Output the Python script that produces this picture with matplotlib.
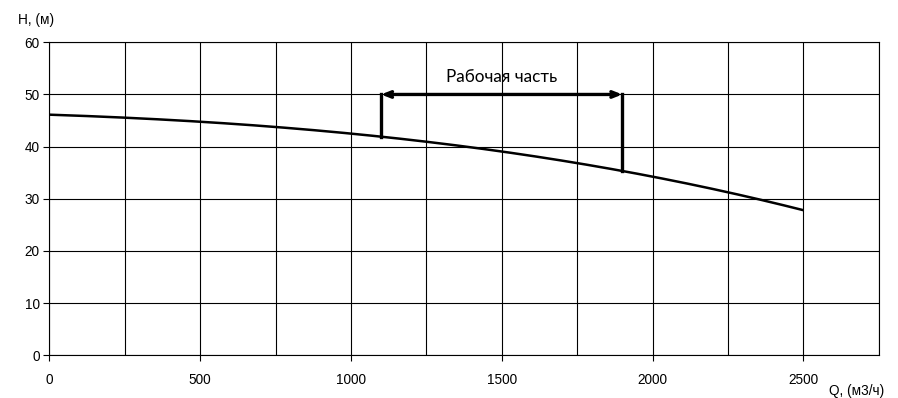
import matplotlib
matplotlib.use("Agg")
import matplotlib.pyplot as plt
import numpy as np
from matplotlib.ticker import MultipleLocator, FixedLocator

# Data
Q = [0, 250, 500, 750, 1000, 1250, 1500, 1750, 2000, 2250, 2500]
H = [46.1, 45.6, 44.8, 43.7, 42.5, 41.0, 39.0, 36.9, 34.2, 31.3, 27.8]
work_start, work_end = 1100, 1900
work_level = 50
work_label = "Рабочая часть"
x_ticks = [0, 500, 1000, 1500, 2000, 2500]
y_ticks = [0, 10, 20, 30, 40, 50, 60]

plt.rcParams['font.family'] = ['Liberation Sans', 'DejaVu Sans']

W, Hpx = 898, 398
fig = plt.figure(figsize=(W / 100, Hpx / 100), dpi=100)
left, right, top, bottom = 49.3, 878.7, 42.3, 355.3
ax = fig.add_axes([left / W, 1 - bottom / Hpx, (right - left) / W, (bottom - top) / Hpx])

ax.set_xlim(0, 2750)
ax.set_ylim(0, 60)
ax.xaxis.set_major_locator(FixedLocator(x_ticks))
ax.xaxis.set_minor_locator(MultipleLocator(250))
ax.yaxis.set_major_locator(FixedLocator(y_ticks))
ax.grid(True, which='both', axis='x', color='black', linewidth=0.8)
ax.grid(True, which='major', axis='y', color='black', linewidth=0.8)
ax.set_axisbelow(True)
ax.tick_params(axis='both', which='major', direction='out', length=4, width=0.8,
               labelsize=9.8, colors='black', pad=8)
ax.tick_params(axis='y', which='major', pad=3)
ax.tick_params(axis='x', which='major', pad=9)
ax.tick_params(axis='x', which='minor', length=0)
for s in ax.spines.values():
    s.set_color('black')
    s.set_linewidth(0.8)

# curve
Qs = np.array(Q, dtype=float)
Hs = np.array(H, dtype=float)
qq = np.linspace(0, 2500, 300)
coef = np.polyfit(Qs, Hs, 3)
hh = np.polyval(coef, qq)
ax.plot(qq, hh, color='black', linewidth=1.8, solid_capstyle='butt')

h1 = np.polyval(coef, work_start)
h2 = np.polyval(coef, work_end)
ax.plot([work_start, work_start], [h1, work_level], color='black', linewidth=2.4)
ax.plot([work_end, work_end], [h2, work_level], color='black', linewidth=2.4)
ax.annotate('', xy=(work_start, work_level), xytext=(work_end, work_level),
            arrowprops=dict(arrowstyle='<->,head_length=0.5,head_width=0.2',
                            color='black', linewidth=2.4, shrinkA=0, shrinkB=0))
ax.text((work_start + work_end) / 2, 53.3, work_label, ha='center', va='center',
        fontsize=12.3, family=['Lato', 'Open Sans', 'DejaVu Sans'])

fig.text(18 / W, 1 - 20 / Hpx, "H, (м)", ha='left', va='center', fontsize=9.8)
fig.text(857 / W, 1 - 391 / Hpx, "Q, (м3/ч)", ha='center', va='center', fontsize=9.8)

fig.savefig("out.png", dpi=100)
